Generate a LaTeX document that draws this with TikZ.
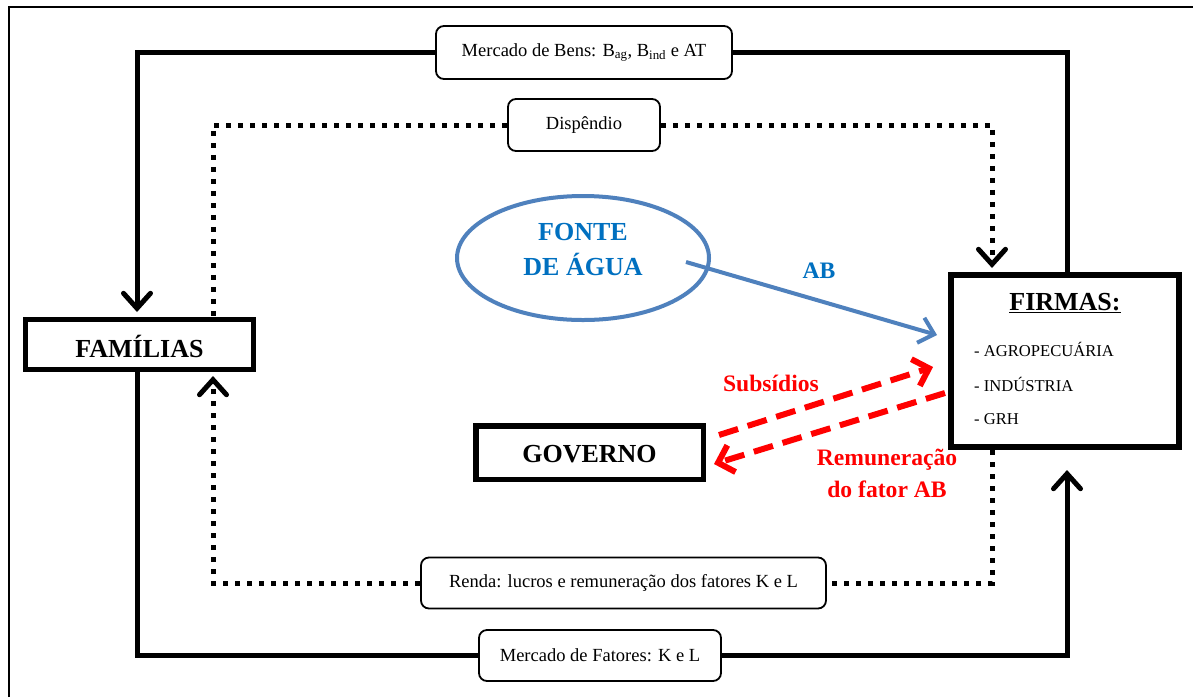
\documentclass[tikz,border=0pt]{standalone}
\usepackage{fontspec}
\setmainfont{Liberation Serif}
\usetikzlibrary{arrows.meta,shapes.geometric}
\definecolor{abblue}{HTML}{4F81BD}
\definecolor{txtblue}{HTML}{0070C0}
\definecolor{flowred}{HTML}{FF0000}
\newcommand\szbox{\fontsize{18.5}{22}\selectfont}
\newcommand\szlist{\fontsize{16.6}{20}\selectfont}
\newcommand\szbig{\bfseries\fontsize{26}{30}\selectfont}
\newcommand\szlab{\bfseries\fontsize{23.6}{30}\selectfont}
\begin{document}
\begin{tikzpicture}[x=1pt,y=-1pt,
  agentbox/.style={draw, line width=5pt, inner sep=0pt, fill=white},
  roundbox/.style={draw, line width=1.8pt, rounded corners=8pt, inner sep=0pt, fill=white},
  solidflow/.style={line width=5pt, line join=miter},
  dotflow/.style={line width=5pt, dash pattern=on 5pt off 7pt},
  bhead/.style={-{Straight Barb[length=15pt,width=27pt,line cap=round]}},
  redflow/.style={flowred, line width=6pt, dash pattern=on 20pt off 10pt,
     -{Straight Barb[length=14pt,width=28pt]}},
  blueflow/.style={abblue, line width=4pt, -{Straight Barb[length=14pt,width=26pt]}},
  txt/.style={inner sep=0pt}]
\useasboundingbox (0,0) rectangle (1193,697);
\fill[white] (0,0) rectangle (1193,697);
% frame
\draw[line width=2.5pt] (9,697) -- (9,7) -- (1193,7);

% nodes
\node[agentbox, minimum width=228pt, minimum height=50pt] (fam) at (139.5,344.5) {};
\node[txt] (famt) at (139.5,346) {\szbig FAMÍLIAS};
\node[agentbox, line width=6pt, minimum width=228pt, minimum height=172pt] (firm) at (1065,361) {};
\node[txt] (firmt) at (1065,303) {\szbig \underline{FIRMAS:}};
\node[txt, anchor=west] (it1) at (974,349) {\szlist - AGROPECUÁRIA};
\node[txt, anchor=west] (it2) at (974,384) {\szlist - INDÚSTRIA};
\node[txt, anchor=west] (it3) at (974,419) {\szlist - GRH};
\node[agentbox, line width=5.5pt, minimum width=227.5pt, minimum height=53.5pt] (gov) at (589.5,452.5) {};
\node[txt] (govt) at (589.5,454) {\szbig GOVERNO};

\node[roundbox, minimum width=296pt, minimum height=53pt] (bens) at (584,52.5)
  {\szbox Mercado de Bens: B\textsubscript{ag}, B\textsubscript{ind} e AT};
\node[roundbox, minimum width=152pt, minimum height=52pt] (disp) at (584,125) {\szbox Dispêndio};
\node[roundbox, minimum width=405pt, minimum height=51pt] (renda) at (623.5,583)
  {\szbox Renda: lucros e remuneração dos fatores K e L};
\node[roundbox, minimum width=242pt, minimum height=51pt] (fat) at (600,655.5)
  {\szbox Mercado de Fatores: K e L};

\node[ellipse, draw=abblue, line width=4pt, minimum width=252pt, minimum height=124pt, inner sep=0pt] (fonte) at (583,258) {};
\node[txt, text=txtblue] (fontet1) at (583,232) {\szbig FONTE};
\node[txt, text=txtblue] (fontet2) at (583,264) {\szbig DE ÁGUA};
\coordinate (abstart) at (686,262);

% solid loop
\draw[solidflow, bhead, shorten >=5pt] (bens.west) -| ([xshift=-2.5pt]fam.north);
\draw[solidflow] ([xshift=-2.5pt]fam.south) |- (fat.west);
\draw[solidflow, bhead, shorten >=20pt] (fat.east) -| ([xshift=2pt]firm.south);
\draw[solidflow] (bens.east) -| ([xshift=2pt]firm.north);

% dotted loop
\draw[dotflow] (disp.west) -| ([xshift=73.5pt]fam.north);
\draw[dotflow, bhead, shorten >=4pt] (disp.east) -| ([xshift=-73pt]firm.north);
\draw[dotflow] ([xshift=-73pt]firm.south) |- (renda.east);
\draw[dotflow, bhead, shorten >=4pt] (renda.west) -| ([xshift=73.5pt]fam.south);

% AB arrow
\draw[blueflow] (abstart) -- ([xshift=-11pt,yshift=26pt]firm.west);
\node[txt, text=txtblue] (ablab) at (819,271) {\szlab AB};

% government flows
\draw[redflow] ([xshift=13pt,yshift=17.5pt]gov.east) -- ([xshift=-15pt,yshift=-6pt]firm.west);
\draw[redflow] ([xshift=-3pt,yshift=-32pt]firm.west) -- ([xshift=8pt,yshift=-11.5pt]gov.east);
\node[txt, text=flowred] (sublab) at (771,383) {\szlab Subsídios};
\node[txt, text=flowred] (remlab1) at (887,460) {\szlab Remuneração};
\node[txt, text=flowred] (remlab2) at (887,489) {\szlab do fator AB};
\end{tikzpicture}
\end{document}
